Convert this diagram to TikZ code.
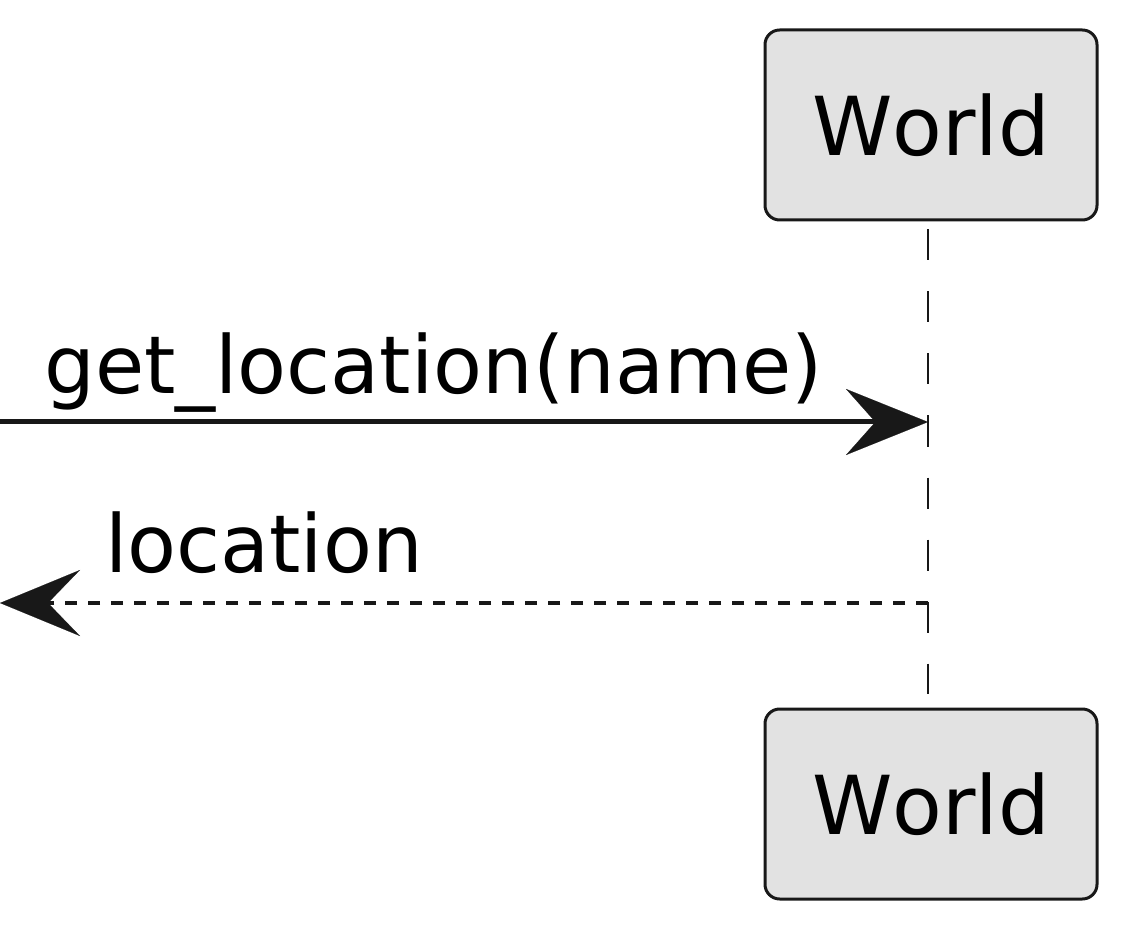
\documentclass[tikz,border=0pt]{standalone}
\usepackage{fontspec}
\setmainfont{DejaVu Sans}
\newfontfamily\nokernfont[Kerning=Off]{DejaVu Sans}
\usetikzlibrary{arrows.meta,calc,positioning}
\definecolor{linecolor}{HTML}{181818}
\definecolor{boxcolor}{HTML}{E2E2E2}

\begin{document}
\begin{tikzpicture}[x=0.75pt,y=-0.75pt,
  actor/.style={draw=linecolor,fill=boxcolor,line width=2.25pt,rounded corners=11pt,
    minimum width=249pt,minimum height=142.5pt,inner sep=0pt,
    font=\nokernfont\fontsize{61}{70}\selectfont},
  lifeline/.style={draw=linecolor,line width=2pt,dash pattern=on 23.25pt off 23.25pt},
  msg/.style={draw=linecolor,line width=3.75pt,
    -{Stealth[length=61.5pt,width=49.5pt,inset=22pt,line width=0.1pt]}},
  reply/.style={draw=linecolor,line width=3pt,dash pattern=on 9pt off 8.25pt,
    -{Stealth[length=60pt,width=49.5pt,inset=24pt,line width=0.1pt]}},
  msglabel/.style={anchor=base west,inner sep=0pt,font=\fontsize{60}{70}\selectfont}]
\useasboundingbox (0,0) rectangle (1128,930);
% participants
\node[actor] (wtop) at (931,125) {World};
\node[actor] (wbot) at (931,804) {World};
\draw[lifeline] ($(wtop.south)+(-3,8)$) coordinate (ltop) -- ($(wbot.north)+(-3,-14)$) coordinate (lbot);
% messages
\coordinate (life1) at (ltop |- 0,422);
\coordinate (life2) at (ltop |- 0,603);
\coordinate (left1) at (0,422);
\coordinate (left2) at (0,603);
\draw[msg] (left1) -- (life1);
\node[msglabel] (lab1) at (44,394) {get\_location(name)};
\draw[reply] (life2) -- (left2);
\node[msglabel] (lab2) at (105,572) {location};
\end{tikzpicture}
\end{document}
